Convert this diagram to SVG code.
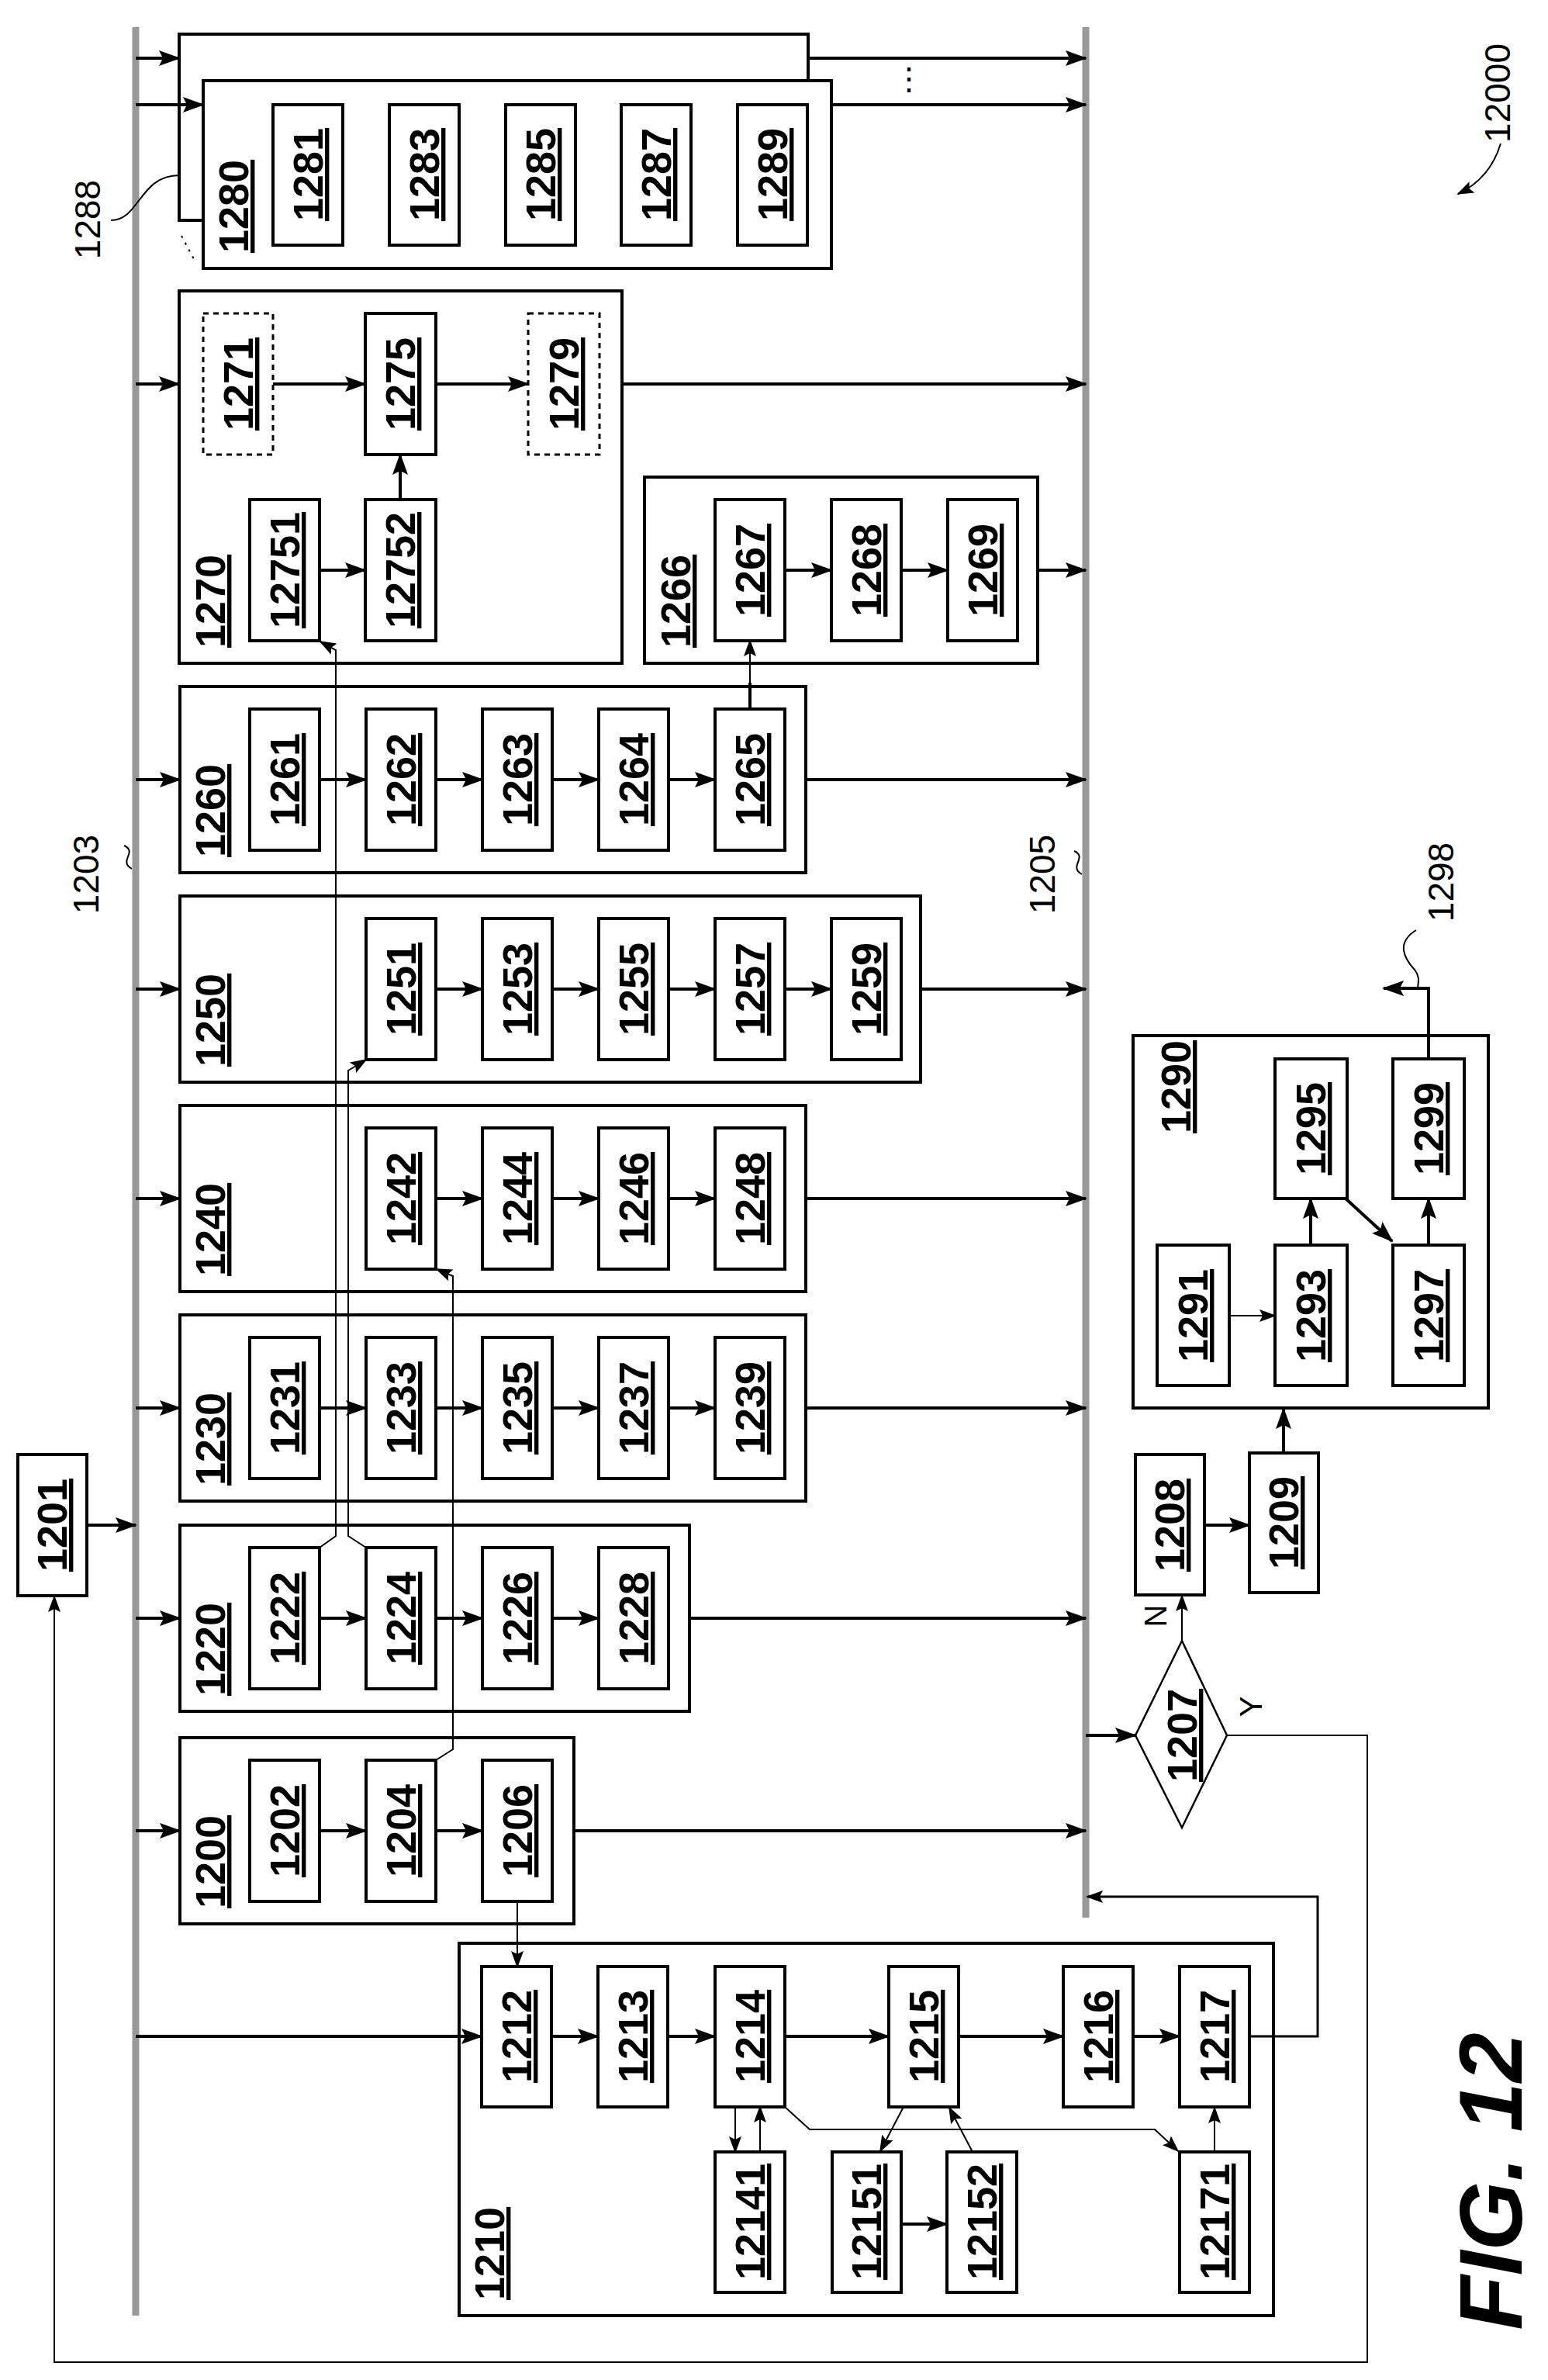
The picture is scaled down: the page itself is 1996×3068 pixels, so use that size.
<svg xmlns="http://www.w3.org/2000/svg" width="1996" height="3068" viewBox="0 0 1996 3068">
<style>
.b{fill:#fff;stroke:#000;stroke-width:4}
.d{fill:#fff;stroke:#000;stroke-width:3;stroke-dasharray:7,6}
.n{font-family:"Liberation Sans",Arial,sans-serif;font-weight:bold;font-size:54px;text-anchor:middle;text-decoration:underline}
.g{font-family:"Liberation Sans",Arial,sans-serif;font-weight:bold;font-size:54px;text-anchor:start;text-decoration:underline}
.r{font-family:"Liberation Sans",Arial,sans-serif;font-size:46px;text-anchor:middle}
.a{fill:none;stroke:#000;stroke-width:4;marker-end:url(#ah)}
.t{fill:none;stroke:#000;stroke-width:2;marker-end:url(#as)}
.l{fill:none;stroke:#000;stroke-width:2}
.L{fill:none;stroke:#000;stroke-width:4}
.bus{stroke:#999;stroke-width:9}
</style>
<defs>
<marker id="ah" markerWidth="28" markerHeight="20" refX="26" refY="10" orient="auto" markerUnits="userSpaceOnUse"><path d="M0,0 L28,10 L0,20 L5,10 Z" fill="#000"/></marker>
<marker id="as" markerWidth="22" markerHeight="16" refX="20" refY="8" orient="auto" markerUnits="userSpaceOnUse"><path d="M0,0 L22,8 L0,16 L4,8 Z" fill="#000"/></marker>
</defs>
<rect width="1996" height="3068" fill="#fff"/>
<g id="buses">
<line class="bus" x1="175" y1="35" x2="175" y2="2985"/>
<line class="bus" x1="1400" y1="35" x2="1400" y2="2472"/>
</g>

<g id="n1288"><rect class="b" x="231" y="44" width="811" height="240"/></g>
<g id="n1280"><rect class="b" x="262" y="104" width="810" height="242"/>
<text class="g" transform="translate(320,326) rotate(-90)">1280</text>
<rect class="b" x="352" y="135" width="90" height="181"/><text class="n" transform="translate(397,225) rotate(-90)" y="19">1281</text>
<rect class="b" x="502" y="135" width="90" height="181"/><text class="n" transform="translate(547,225) rotate(-90)" y="19">1283</text>
<rect class="b" x="652" y="135" width="90" height="181"/><text class="n" transform="translate(697,225) rotate(-90)" y="19">1285</text>
<rect class="b" x="801" y="135" width="90" height="181"/><text class="n" transform="translate(846,225) rotate(-90)" y="19">1287</text>
<rect class="b" x="951" y="135" width="90" height="181"/><text class="n" transform="translate(996,225) rotate(-90)" y="19">1289</text>
</g>
<g id="lab1288"><text class="r" transform="translate(112,283) rotate(-90)" y="17">1288</text>
<path class="l" d="M143,284 C180,284 180,226 231,226"/>
<path class="l" d="M234,304 L250,334" stroke-dasharray="3,7"/>
<text class="r" x="1172" y="115" style="font-size:40px">⋮</text></g>

<g id="n1270"><rect class="b" x="231" y="375" width="571" height="480"/>
<text class="g" transform="translate(290,835) rotate(-90)">1270</text>
<rect class="d" x="262" y="404" width="90" height="182"/><text class="n" transform="translate(307,495) rotate(-90)" y="19">1271</text>
<rect class="b" x="471" y="404" width="91" height="182"/><text class="n" transform="translate(516,495) rotate(-90)" y="19">1275</text>
<rect class="d" x="681" y="404" width="92" height="182"/><text class="n" transform="translate(727,495) rotate(-90)" y="19">1279</text>
<rect class="b" x="322" y="644" width="90" height="182"/><text class="n" transform="translate(367,735) rotate(-90)" y="19">12751</text>
<rect class="b" x="471" y="644" width="91" height="182"/><text class="n" transform="translate(516,735) rotate(-90)" y="19">12752</text>
</g>
<g id="n1266"><rect class="b" x="831" y="615" width="507" height="240"/>
<text class="g" transform="translate(890,835) rotate(-90)">1266</text>
<rect class="b" x="922" y="644" width="90" height="182"/><text class="n" transform="translate(967,735) rotate(-90)" y="19">1267</text>
<rect class="b" x="1072" y="644" width="90" height="182"/><text class="n" transform="translate(1117,735) rotate(-90)" y="19">1268</text>
<rect class="b" x="1222" y="644" width="90" height="182"/><text class="n" transform="translate(1267,735) rotate(-90)" y="19">1269</text>
</g>

<g id="n1260"><rect class="b" x="232" y="885" width="807" height="240"/>
<text class="g" transform="translate(290,1105) rotate(-90)">1260</text>
<rect class="b" x="322" y="914" width="90" height="182"/><text class="n" transform="translate(367,1005) rotate(-90)" y="19">1261</text>
<rect class="b" x="472" y="914" width="90" height="182"/><text class="n" transform="translate(517,1005) rotate(-90)" y="19">1262</text>
<rect class="b" x="622" y="914" width="90" height="182"/><text class="n" transform="translate(667,1005) rotate(-90)" y="19">1263</text>
<rect class="b" x="772" y="914" width="90" height="182"/><text class="n" transform="translate(817,1005) rotate(-90)" y="19">1264</text>
<rect class="b" x="922" y="914" width="90" height="182"/><text class="n" transform="translate(967,1005) rotate(-90)" y="19">1265</text>
</g>
<g id="n1250"><rect class="b" x="232" y="1155" width="955" height="240"/>
<text class="g" transform="translate(290,1375) rotate(-90)">1250</text>
<rect class="b" x="472" y="1184" width="90" height="182"/><text class="n" transform="translate(517,1275) rotate(-90)" y="19">1251</text>
<rect class="b" x="622" y="1184" width="90" height="182"/><text class="n" transform="translate(667,1275) rotate(-90)" y="19">1253</text>
<rect class="b" x="772" y="1184" width="90" height="182"/><text class="n" transform="translate(817,1275) rotate(-90)" y="19">1255</text>
<rect class="b" x="922" y="1184" width="90" height="182"/><text class="n" transform="translate(967,1275) rotate(-90)" y="19">1257</text>
<rect class="b" x="1072" y="1184" width="90" height="182"/><text class="n" transform="translate(1117,1275) rotate(-90)" y="19">1259</text>
</g>
<g id="n1240"><rect class="b" x="232" y="1425" width="807" height="240"/>
<text class="g" transform="translate(290,1645) rotate(-90)">1240</text>
<rect class="b" x="472" y="1454" width="90" height="182"/><text class="n" transform="translate(517,1545) rotate(-90)" y="19">1242</text>
<rect class="b" x="622" y="1454" width="90" height="182"/><text class="n" transform="translate(667,1545) rotate(-90)" y="19">1244</text>
<rect class="b" x="772" y="1454" width="90" height="182"/><text class="n" transform="translate(817,1545) rotate(-90)" y="19">1246</text>
<rect class="b" x="922" y="1454" width="90" height="182"/><text class="n" transform="translate(967,1545) rotate(-90)" y="19">1248</text>
</g>
<g id="n1230"><rect class="b" x="232" y="1695" width="807" height="240"/>
<text class="g" transform="translate(290,1915) rotate(-90)">1230</text>
<rect class="b" x="322" y="1724" width="90" height="182"/><text class="n" transform="translate(367,1815) rotate(-90)" y="19">1231</text>
<rect class="b" x="472" y="1724" width="90" height="182"/><text class="n" transform="translate(517,1815) rotate(-90)" y="19">1233</text>
<rect class="b" x="622" y="1724" width="90" height="182"/><text class="n" transform="translate(667,1815) rotate(-90)" y="19">1235</text>
<rect class="b" x="772" y="1724" width="90" height="182"/><text class="n" transform="translate(817,1815) rotate(-90)" y="19">1237</text>
<rect class="b" x="922" y="1724" width="90" height="182"/><text class="n" transform="translate(967,1815) rotate(-90)" y="19">1239</text>
</g>
<g id="n1220"><rect class="b" x="232" y="1966" width="657" height="240"/>
<text class="g" transform="translate(290,2186) rotate(-90)">1220</text>
<rect class="b" x="322" y="1995" width="90" height="182"/><text class="n" transform="translate(367,2086) rotate(-90)" y="19">1222</text>
<rect class="b" x="472" y="1995" width="90" height="182"/><text class="n" transform="translate(517,2086) rotate(-90)" y="19">1224</text>
<rect class="b" x="622" y="1995" width="90" height="182"/><text class="n" transform="translate(667,2086) rotate(-90)" y="19">1226</text>
<rect class="b" x="772" y="1995" width="90" height="182"/><text class="n" transform="translate(817,2086) rotate(-90)" y="19">1228</text>
</g>
<g id="n1200"><rect class="b" x="232" y="2240" width="508" height="240"/>
<text class="g" transform="translate(290,2460) rotate(-90)">1200</text>
<rect class="b" x="322" y="2269" width="90" height="182"/><text class="n" transform="translate(367,2360) rotate(-90)" y="19">1202</text>
<rect class="b" x="472" y="2269" width="90" height="182"/><text class="n" transform="translate(517,2360) rotate(-90)" y="19">1204</text>
<rect class="b" x="622" y="2269" width="90" height="182"/><text class="n" transform="translate(667,2360) rotate(-90)" y="19">1206</text>
</g>
<g id="n1201"><rect class="b" x="23" y="1875" width="89" height="182"/><text class="n" transform="translate(67,1966) rotate(-90)" y="19">1201</text></g>

<g id="n1210"><rect class="b" x="592" y="2505" width="1050" height="480"/>
<text class="g" transform="translate(650,2965) rotate(-90)">1210</text>
<rect class="b" x="621" y="2535" width="90" height="181"/><text class="n" transform="translate(666,2625) rotate(-90)" y="19">1212</text>
<rect class="b" x="771" y="2535" width="90" height="181"/><text class="n" transform="translate(816,2625) rotate(-90)" y="19">1213</text>
<rect class="b" x="922" y="2535" width="90" height="181"/><text class="n" transform="translate(967,2625) rotate(-90)" y="19">1214</text>
<rect class="b" x="1146" y="2535" width="90" height="181"/><text class="n" transform="translate(1191,2625) rotate(-90)" y="19">1215</text>
<rect class="b" x="1371" y="2535" width="90" height="181"/><text class="n" transform="translate(1416,2625) rotate(-90)" y="19">1216</text>
<rect class="b" x="1521" y="2535" width="90" height="181"/><text class="n" transform="translate(1566,2625) rotate(-90)" y="19">1217</text>
<rect class="b" x="922" y="2774" width="90" height="181"/><text class="n" transform="translate(967,2864) rotate(-90)" y="19">12141</text>
<rect class="b" x="1073" y="2774" width="89" height="181"/><text class="n" transform="translate(1117,2864) rotate(-90)" y="19">12151</text>
<rect class="b" x="1221" y="2774" width="90" height="181"/><text class="n" transform="translate(1266,2864) rotate(-90)" y="19">12152</text>
<rect class="b" x="1521" y="2774" width="90" height="181"/><text class="n" transform="translate(1566,2864) rotate(-90)" y="19">12171</text>
</g>

<g id="n1290"><rect class="b" x="1461" y="1335" width="458" height="480"/>
<text class="g" transform="translate(1535,1461) rotate(-90)">1290</text>
<rect class="b" x="1492" y="1605" width="93" height="181"/><text class="n" transform="translate(1538,1696) rotate(-90)" y="19">1291</text>
<rect class="b" x="1644" y="1605" width="93" height="181"/><text class="n" transform="translate(1690,1696) rotate(-90)" y="19">1293</text>
<rect class="b" x="1796" y="1605" width="92" height="181"/><text class="n" transform="translate(1842,1696) rotate(-90)" y="19">1297</text>
<rect class="b" x="1644" y="1365" width="93" height="180"/><text class="n" transform="translate(1690,1455) rotate(-90)" y="19">1295</text>
<rect class="b" x="1796" y="1365" width="92" height="180"/><text class="n" transform="translate(1842,1455) rotate(-90)" y="19">1299</text>
</g>
<g id="n1208"><rect class="b" x="1464" y="1875" width="89" height="181"/><text class="n" transform="translate(1508,1966) rotate(-90)" y="19">1208</text></g>
<g id="n1209"><rect class="b" x="1611" y="1873" width="89" height="180"/><text class="n" transform="translate(1655,1963) rotate(-90)" y="19">1209</text></g>
<g id="n1207"><path d="M1524,2115 L1582,2237 L1524,2356 L1464,2237 Z" fill="#fff" stroke="#000" stroke-width="2.5"/>
<text class="n" transform="translate(1524,2237) rotate(-90)" y="19">1207</text></g>

<g id="labels">
<text class="r" transform="translate(110,1127) rotate(-90)" y="17">1203</text>
<path class="l" d="M160,1090 C178,1098 152,1110 170,1120"/>
<text class="r" transform="translate(1343,1127) rotate(-90)" y="17">1205</text>
<path class="l" d="M1385,1097 C1403,1105 1377,1117 1395,1127"/>
<text class="r" transform="translate(1857,1137) rotate(-90)" y="17">1298</text>
<path class="l" d="M1826,1199 C1800,1215 1810,1235 1824,1250 C1832,1260 1828,1268 1828,1274"/>
<text class="r" transform="translate(1930,120) rotate(-90)" y="17">12000</text>
<path class="t" d="M1935,185 C1925,218 1905,238 1880,250"/>
<text class="r" transform="translate(1489,2083) rotate(-90)" y="15" style="font-size:40px">N</text>
<text class="r" transform="translate(1612,2200) rotate(-90)" y="15" style="font-size:40px">Y</text>
<text transform="translate(1962,2812) rotate(-90)" style="font-family:'Liberation Sans',Arial,sans-serif;font-weight:bold;font-style:italic;font-size:115px;text-anchor:middle">FIG. 12</text>
</g>

<g id="connectors">
<path class="a" d="M175,75 H231"/>
<path class="a" d="M175,135 H262"/>
<path class="a" d="M175,495 H231"/>
<path class="a" d="M175,1005 H232"/>
<path class="a" d="M175,1275 H232"/>
<path class="a" d="M175,1545 H232"/>
<path class="a" d="M175,1815 H232"/>
<path class="a" d="M175,2086 H232"/>
<path class="a" d="M175,2360 H232"/>
<path class="a" d="M175,2625 H621"/>
<path class="a" d="M112,1966 H175"/>
<path class="a" d="M1042,75 H1400"/>
<path class="a" d="M1072,135 H1400"/>
<path class="a" d="M802,495 H1400"/>
<path class="a" d="M1338,735 H1400"/>
<path class="a" d="M1039,1005 H1400"/>
<path class="a" d="M1187,1275 H1400"/>
<path class="a" d="M1039,1545 H1400"/>
<path class="a" d="M1039,1815 H1400"/>
<path class="a" d="M889,2086 H1400"/>
<path class="a" d="M740,2360 H1400"/>
<path class="a" d="M1400,2237 H1464"/>
<path class="a" d="M352,495 H471"/>
<path class="a" d="M562,495 H681"/>
<path class="a" d="M412,735 H471"/>
<path class="a" d="M516,644 V586"/>
<path class="a" d="M1012,735 H1072"/>
<path class="a" d="M1162,735 H1222"/>
<path class="L" d="M967,914 V880"/>
<path class="t" d="M967,885 V826"/>
<path class="a" d="M412,1005 H472"/><path class="a" d="M562,1005 H622"/><path class="a" d="M712,1005 H772"/><path class="a" d="M862,1005 H922"/>
<path class="a" d="M562,1275 H622"/><path class="a" d="M712,1275 H772"/><path class="a" d="M862,1275 H922"/><path class="a" d="M1012,1275 H1072"/>
<path class="a" d="M562,1545 H622"/><path class="a" d="M712,1545 H772"/><path class="a" d="M862,1545 H922"/>
<path class="a" d="M412,1815 H472"/><path class="a" d="M562,1815 H622"/><path class="a" d="M712,1815 H772"/><path class="a" d="M862,1815 H922"/>
<path class="a" d="M412,2086 H472"/><path class="a" d="M562,2086 H622"/><path class="a" d="M712,2086 H772"/>
<path class="a" d="M412,2360 H472"/><path class="a" d="M562,2360 H622"/>
<path class="t" d="M412,1995 L433,1980 V838 L413,827"/>
<path class="t" d="M472,1995 L449,1980 V1380 L472,1366"/>
<path class="t" d="M562,2269 L584,2255 V1645 L563,1636"/>
<path class="t" d="M667,2451 V2535"/>
<path class="a" d="M711,2625 H771"/><path class="a" d="M861,2625 H922"/><path class="a" d="M1012,2625 H1146"/><path class="a" d="M1236,2625 H1371"/><path class="a" d="M1461,2625 H1521"/>
<path class="t" d="M948,2716 V2774"/>
<path class="t" d="M980,2774 V2716"/>
<path class="t" d="M1012,2716 L1044,2745 H1489 L1519,2773"/>
<path class="t" d="M1165,2716 L1135,2773"/>
<path class="t" d="M1254,2774 L1224,2717"/>
<path class="a" d="M1162,2867 H1221"/>
<path class="t" d="M1566,2774 V2717"/>
<path class="t" d="M1611,2625 H1699 V2445 H1402" style="stroke-width:3"/>
<path class="t" d="M1524,2115 V2057"/>
<path class="l" d="M1582,2237 H1763 V3045 H70 V2080"/>
<path class="t" d="M70,2085 V2058"/>
<path class="a" d="M1553,1966 H1611"/>
<path class="a" d="M1655,1873 V1816"/>
<path class="l" d="M1585,1696 H1640"/><path class="t" d="M1620,1696 H1644"/>
<path class="a" d="M1690,1605 V1545"/>
<path class="a" d="M1735,1545 L1795,1600"/>
<path class="a" d="M1842,1605 V1545"/>
<path class="a" d="M1842,1365 V1274 H1784"/>
</g>
</svg>
